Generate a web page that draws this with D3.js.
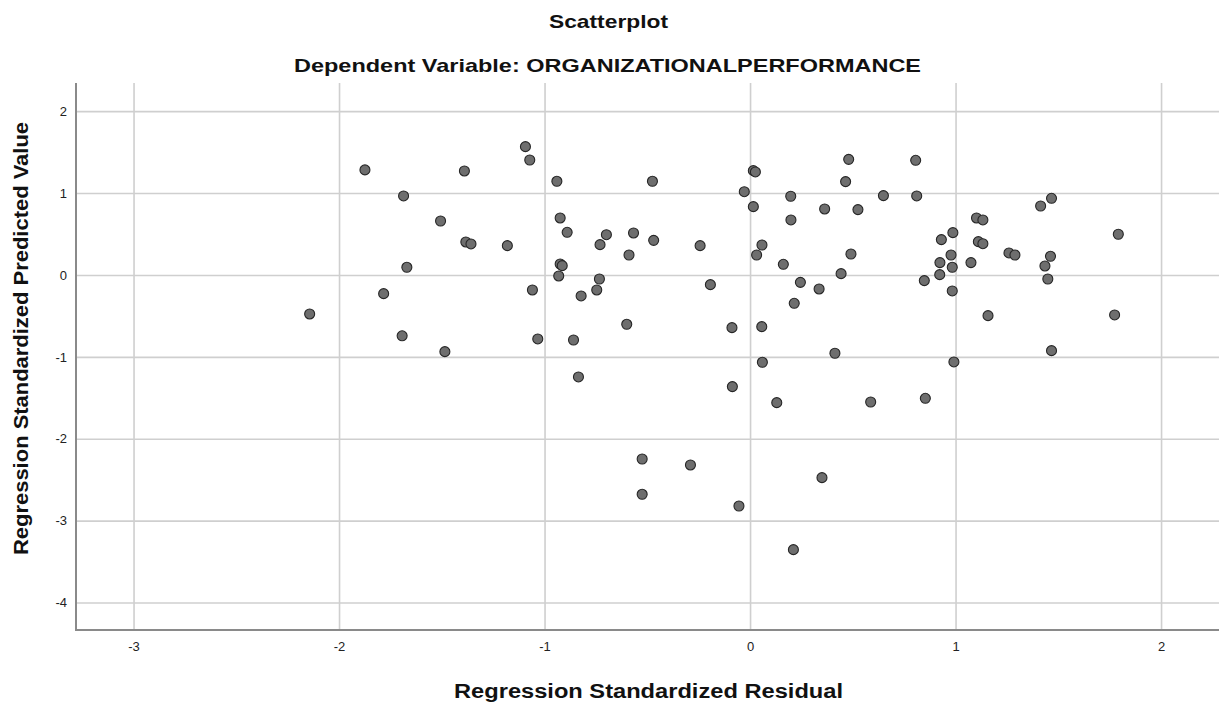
<!DOCTYPE html>
<html><head><meta charset="utf-8">
<script src="https://cdn.jsdelivr.net/npm/d3@7"></script>
<style>html,body{margin:0;padding:0;background:#fff;}svg{display:block;}</style>
</head><body>
<svg id="chart" width="1221" height="707"></svg>
<script>
const titleText = "Scatterplot";
const subtitleText = "Dependent Variable: ORGANIZATIONALPERFORMANCE";
const xTitle = "Regression Standardized Residual";
const yTitle = "Regression Standardized Predicted Value";
const xTicks = [-3, -2, -1, 0, 1, 2];
const yTicks = [-4, -3, -2, -1, 0, 1, 2];
const residuals = [-2.143,-1.874,-1.783,-1.686,-1.693,-1.670,-1.506,-1.485,-1.390,-1.383,-1.358,-1.181,-1.093,-1.072,-1.059,-1.033,-0.940,-0.924,-0.890,-0.924,-0.914,-0.931,-0.859,-0.835,-0.822,-0.746,-0.733,-0.730,-0.699,-0.600,-0.589,-0.567,-0.525,-0.525,-0.475,-0.469,-0.290,-0.243,-0.193,-0.088,-0.086,-0.054,-0.028,0.016,0.026,0.016,0.032,0.058,0.057,0.060,0.130,0.162,0.198,0.199,0.245,0.215,0.211,0.336,0.350,0.363,0.413,0.443,0.465,0.480,0.491,0.525,0.587,0.649,0.806,0.811,0.848,0.853,0.923,0.924,0.931,0.978,0.984,0.984,0.987,0.992,1.075,1.102,1.133,1.111,1.133,1.158,1.260,1.289,1.414,1.435,1.449,1.462,1.467,1.467,1.774,1.792];
const predicted = [-0.476,1.283,-0.228,0.965,-0.743,0.094,0.659,-0.936,1.270,0.403,0.379,0.358,1.567,1.404,-0.183,-0.781,1.144,0.696,0.521,0.134,0.114,-0.012,-0.794,-1.245,-0.256,-0.183,-0.049,0.370,0.492,-0.602,0.244,0.513,-2.247,-2.678,1.144,0.423,-2.320,0.358,-0.118,-0.643,-1.363,-2.821,1.017,1.274,1.258,0.834,0.244,0.366,-0.631,-1.066,-1.559,0.130,0.961,0.672,-0.090,-0.346,-3.354,-0.171,-2.475,0.806,-0.956,0.016,1.140,1.412,0.256,0.798,-1.551,0.969,1.400,0.965,-0.069,-1.506,0.004,0.151,0.432,0.244,0.094,-0.195,0.517,-1.062,0.151,0.696,0.672,0.407,0.382,-0.497,0.269,0.244,0.842,0.110,-0.049,0.228,0.936,-0.924,-0.488,0.497];

const svg = d3.select("#chart");
const L = 76, R = 1219, T = 83, B = 630;
const x = d3.scaleLinear().domain([-3.28, 2.282]).range([L, R]);
const y = d3.scaleLinear().domain([-4.335, 2.344]).range([B, T]);
const font = "'Liberation Sans', Arial, sans-serif";
const fmt = d => String(d);

// grid
svg.append("g").attr("transform", `translate(0,${B})`)
  .call(d3.axisBottom(x).tickValues(xTicks).tickSize(-(B - T)).tickFormat(""))
  .call(g => g.select(".domain").remove())
  .call(g => g.selectAll("line").attr("stroke", "#cfcfcf").attr("stroke-width", 1.6));
svg.append("g").attr("transform", `translate(${L},0)`)
  .call(d3.axisLeft(y).tickValues(yTicks).tickSize(-(R - L)).tickFormat(""))
  .call(g => g.select(".domain").remove())
  .call(g => g.selectAll("line").attr("stroke", "#cfcfcf").attr("stroke-width", 1.6));

// tick labels
svg.append("g").attr("transform", `translate(0,${B})`)
  .call(d3.axisBottom(x).tickValues(xTicks).tickSize(0).tickPadding(12).tickFormat(fmt))
  .call(g => g.select(".domain").remove())
  .call(g => g.selectAll("text").attr("font-family", font).attr("font-size", 13).attr("fill", "#222"));
svg.append("g").attr("transform", `translate(${L},0)`)
  .call(d3.axisLeft(y).tickValues(yTicks).tickSize(0).tickPadding(9).tickFormat(fmt))
  .call(g => g.select(".domain").remove())
  .call(g => g.selectAll("text").attr("font-family", font).attr("font-size", 13).attr("fill", "#222"));

// axis lines
svg.append("line").attr("x1", L).attr("x2", L).attr("y1", T).attr("y2", B + 1)
  .attr("stroke", "#8a8a8a").attr("stroke-width", 2);
svg.append("line").attr("x1", L - 1).attr("x2", R).attr("y1", B).attr("y2", B)
  .attr("stroke", "#8a8a8a").attr("stroke-width", 2);

// points
const pts = residuals.map((r, i) => ({ r, p: predicted[i] }));
svg.append("g").selectAll("circle").data(pts).join("circle")
  .attr("cx", d => x(d.r)).attr("cy", d => y(d.p)).attr("r", 5)
  .attr("fill", "#6e6e6e").attr("stroke", "#262626").attr("stroke-width", 1.1);

// titles
svg.append("text").attr("x", 608.5).attr("y", 27.5).attr("text-anchor", "middle")
  .attr("font-family", font).attr("font-weight", "bold").attr("font-size", 19).attr("fill", "#111")
  .attr("textLength", 119).attr("lengthAdjust", "spacingAndGlyphs").text(titleText);
svg.append("text").attr("x", 607.5).attr("y", 72).attr("text-anchor", "middle")
  .attr("font-family", font).attr("font-weight", "bold").attr("font-size", 19).attr("fill", "#111")
  .attr("textLength", 627).attr("lengthAdjust", "spacingAndGlyphs").text(subtitleText);
svg.append("text").attr("x", 648.5).attr("y", 698).attr("text-anchor", "middle")
  .attr("font-family", font).attr("font-weight", "bold").attr("font-size", 20).attr("fill", "#111")
  .attr("textLength", 389).attr("lengthAdjust", "spacingAndGlyphs").text(xTitle);
svg.append("text").attr("transform", "translate(27.5,338.5) rotate(-90)").attr("text-anchor", "middle")
  .attr("font-family", font).attr("font-weight", "bold").attr("font-size", 20).attr("fill", "#111")
  .attr("textLength", 433).attr("lengthAdjust", "spacingAndGlyphs").text(yTitle);
</script>
</body></html>
